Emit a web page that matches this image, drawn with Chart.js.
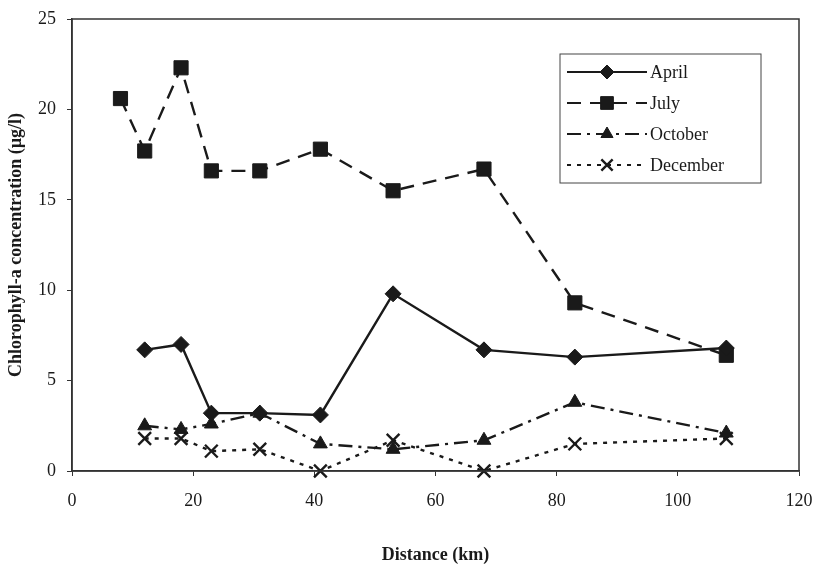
<!DOCTYPE html>
<html>
<head>
<meta charset="utf-8">
<script src="https://cdn.jsdelivr.net/npm/chart.js@4/dist/chart.umd.min.js"></script>
<style>
    html, body { margin: 0; padding: 0; background: #fff; }
</style>
</head>
<body>
<canvas id="chart" width="819" height="572"></canvas>
<script>
// distance along the river (km)
const distanceJuly = [8, 12, 18, 23, 31, 41, 53, 68, 83, 108];
const distance = [12, 18, 23, 31, 41, 53, 68, 83, 108];

// chlorophyll-a (ug/l)
const april = [6.7, 7.0, 3.2, 3.2, 3.1, 9.8, 6.7, 6.3, 6.8];
const july = [20.6, 17.7, 22.3, 16.6, 16.6, 17.8, 15.5, 16.7, 9.3, 6.4];
const october = [2.5, 2.3, 2.6, 3.2, 1.5, 1.2, 1.7, 3.8, 2.1];
const december = [1.8, 1.8, 1.1, 1.2, 0, 1.7, 0, 1.5, 1.8];

const xTickStep = 20;
const yTickStep = 5;

(function () {
    const ink = "#1a1a1a";
    const serif = "'Liberation Serif', 'Times New Roman', serif";

    function pairs(xs, ys) {
        return ys.map(function (y, i) { return { x: xs[i], y: y }; });
    }

    function series(label, xs, ys, style, dash, radius) {
        return {
            label: label,
            data: pairs(xs, ys),
            borderColor: ink,
            backgroundColor: ink,
            borderWidth: 2.4,
            borderDash: dash,
            pointStyle: style,
            pointRadius: radius,
            pointBorderWidth: style === "crossRot" ? 2.4 : 1,
            pointBackgroundColor: ink,
            pointBorderColor: ink,
            tension: 0,
            clip: false
        };
    }

    const framePlugin = {
        id: "frame",
        afterDatasetsDraw: function (chart) {
            const a = chart.chartArea;
            const ctx = chart.ctx;
            ctx.save();
            ctx.strokeStyle = "#333";
            ctx.lineWidth = 1.5;
            ctx.strokeRect(a.left, a.top, a.right - a.left, a.bottom - a.top);
            ctx.restore();
        }
    };

    // boxed legend inside the plot, like the original
    const boxLegend = {
        id: "boxLegend",
        afterDraw: function (chart) {
            const ctx = chart.ctx;
            const box = { left: 560, top: 54, width: 201, height: 129 };
            const rows = [72, 103, 134, 165];
            ctx.save();
            ctx.fillStyle = "#fff";
            ctx.fillRect(box.left, box.top, box.width, box.height);
            ctx.strokeStyle = "#444";
            ctx.lineWidth = 1;
            ctx.strokeRect(box.left, box.top, box.width, box.height);

            chart.data.datasets.forEach(function (ds, i) {
                const y = rows[i];
                ctx.strokeStyle = ink;
                ctx.fillStyle = ink;
                ctx.lineWidth = 2.2;
                ctx.setLineDash(ds.borderDash || []);
                ctx.beginPath();
                ctx.moveTo(567, y);
                ctx.lineTo(647, y);
                ctx.stroke();
                ctx.setLineDash([]);
                ctx.lineWidth = ds.pointBorderWidth;
                Chart.helpers.drawPoint(ctx, {
                    pointStyle: ds.pointStyle,
                    radius: ds.pointRadius - 1,
                    borderWidth: ds.pointBorderWidth,
                    rotation: 0
                }, 607, y);
                ctx.font = "18px " + serif;
                ctx.textBaseline = "middle";
                ctx.textAlign = "left";
                ctx.fillText(ds.label, 650, y + 1);
            });
            ctx.restore();
        }
    };

    const ctx = document.getElementById("chart").getContext("2d");

    new Chart(ctx, {
        type: "line",
        data: {
            datasets: [
                series("April", distance, april, "rectRot", [], 8),
                series("July", distanceJuly, july, "rect", [14, 9], 10),
                series("October", distance, october, "triangle", [14, 6, 3, 6], 8),
                series("December", distance, december, "crossRot", [4, 6], 9)
            ]
        },
        options: {
            responsive: false,
            animation: false,
            devicePixelRatio: 1,
            layout: {
                padding: { top: 19, right: 20, left: 0, bottom: 0 }
            },
            plugins: {
                legend: { display: false },
                tooltip: { enabled: false }
            },
            scales: {
                x: {
                    type: "linear",
                    min: 0,
                    max: 120,
                    afterFit: function (scale) {
                        scale.height = 101;
                        scale.paddingLeft = 0;
                        scale.paddingRight = 0;
                    },
                    ticks: {
                        stepSize: xTickStep,
                        color: ink,
                        padding: 14,
                        maxRotation: 0,
                        font: { family: serif, size: 18 }
                    },
                    grid: {
                        drawOnChartArea: false,
                        drawTicks: true,
                        tickLength: 5,
                        color: "#333"
                    },
                    border: { display: true, color: "#333", width: 1.5 },
                    title: {
                        display: true,
                        text: "Distance (km)",
                        color: ink,
                        padding: { top: 0, bottom: 6 },
                        font: { family: serif, size: 18, weight: "bold" }
                    }
                },
                y: {
                    min: 0,
                    max: 25,
                    afterFit: function (scale) {
                        scale.width = 72;
                        scale.paddingTop = 0;
                        scale.paddingBottom = 0;
                    },
                    ticks: {
                        stepSize: yTickStep,
                        color: ink,
                        padding: 11,
                        font: { family: serif, size: 18 }
                    },
                    grid: {
                        drawOnChartArea: false,
                        drawTicks: true,
                        tickLength: 5,
                        color: "#333"
                    },
                    border: { display: true, color: "#333", width: 1.5 },
                    title: {
                        display: true,
                        text: "Chlorophyll-a concentration (\u00b5g/l)",
                        color: ink,
                        padding: { top: 6, bottom: 0 },
                        font: { family: serif, size: 18, weight: "bold" }
                    }
                }
            }
        },
        plugins: [framePlugin, boxLegend]
    });
})();
</script>
</body>
</html>
